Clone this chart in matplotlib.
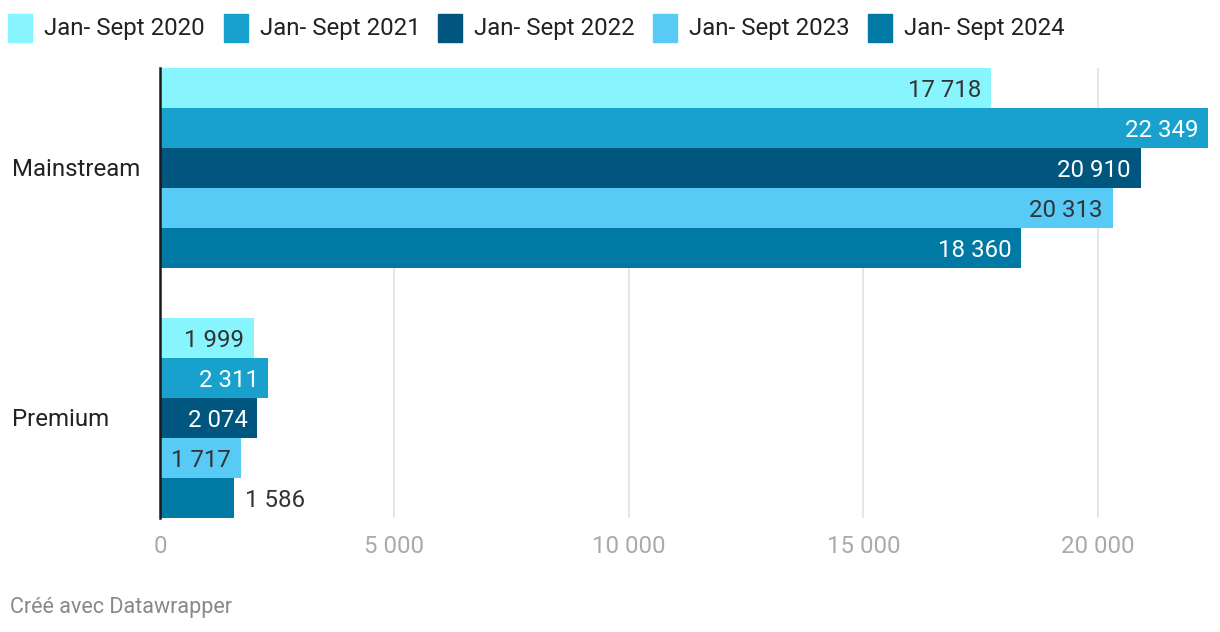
import numpy as np
import matplotlib.pyplot as plt
from matplotlib.patches import Rectangle

plt.rcParams['font.family'] = ['Roboto', 'DejaVu Sans']

categories = ['Mainstream', 'Premium']
series = ['Jan- Sept 2020', 'Jan- Sept 2021', 'Jan- Sept 2022', 'Jan- Sept 2023', 'Jan- Sept 2024']
values = [
    [17718, 1999],
    [22349, 2311],
    [20910, 2074],
    [20313, 1717],
    [18360, 1586],
]
colors = ['#88f4fe', '#18a1cd', '#00567e', '#57cbf5', '#0079a4']
text_colors = ['#333333', 'white', 'white', '#333333', 'white']
xticks = [0, 5000, 10000, 15000, 20000]

def fmt(v):
    return '{:,}'.format(v).replace(',', ' ')

fs = 17.3
fig = plt.figure(figsize=(12.2, 6.32), dpi=100)
W, H = 1220, 632
ax = fig.add_axes([160 / W, 1 - 518 / H, (1208 - 160) / W, 450 / H])

group_gap = 6.25
for i, s in enumerate(series):
    for g, cat in enumerate(categories):
        y = g * group_gap + i
        v = values[i][g]
        ax.barh(y, v, height=1.0, color=colors[i], zorder=2)
        # label inside if it fits, else outside
        if v > 1650:
            ax.annotate(fmt(v), (v, y), xytext=(-7, -1.5), textcoords='offset points',
                        ha='right', va='center', fontsize=fs, color=text_colors[i], zorder=3)
        else:
            ax.annotate(fmt(v), (v, y), xytext=(8, -1.5), textcoords='offset points',
                        ha='left', va='center', fontsize=fs, color='#333333', zorder=3)

ax.set_ylim(10.75, -0.5)
ax.set_xlim(0, 22349)
ax.set_xticks(xticks)
ax.set_xticklabels([fmt(t) for t in xticks], fontsize=fs, color='#aaaaaa')
ax.tick_params(axis='x', length=0, pad=12)
ax.set_yticks([])
ax.grid(axis='x', color='#e2e2e2', linewidth=1.2, zorder=0)
for sp in ['top', 'right', 'bottom']:
    ax.spines[sp].set_visible(False)
ax.spines['left'].set_color('#1a1a1a')
ax.spines['left'].set_linewidth(1.8)
ax.spines['left'].set_zorder(4)

for g, cat in enumerate(categories):
    yc = g * group_gap + 2
    ypix = 68 + (yc + 0.5) * 40 + 2
    fig.text(12 / W, 1 - ypix / H, cat, ha='left', va='center', fontsize=fs, color='#222222')

# legend
sq_x = [8, 224, 438, 653, 868]
for i, s in enumerate(series):
    fig.patches.append(Rectangle((sq_x[i] / W, 1 - 42 / H), 24 / W, 28 / H,
                                 transform=fig.transFigure, color=colors[i]))
    fig.text((sq_x[i] + 36) / W, 1 - 28 / H, s, ha='left', va='center', fontsize=fs, color='#222222')

fig.text(10 / W, 1 - 608 / H, 'Créé avec Datawrapper', ha='left', va='center', fontsize=15.5, color='#888888')

fig.savefig('out.png', dpi=100)
